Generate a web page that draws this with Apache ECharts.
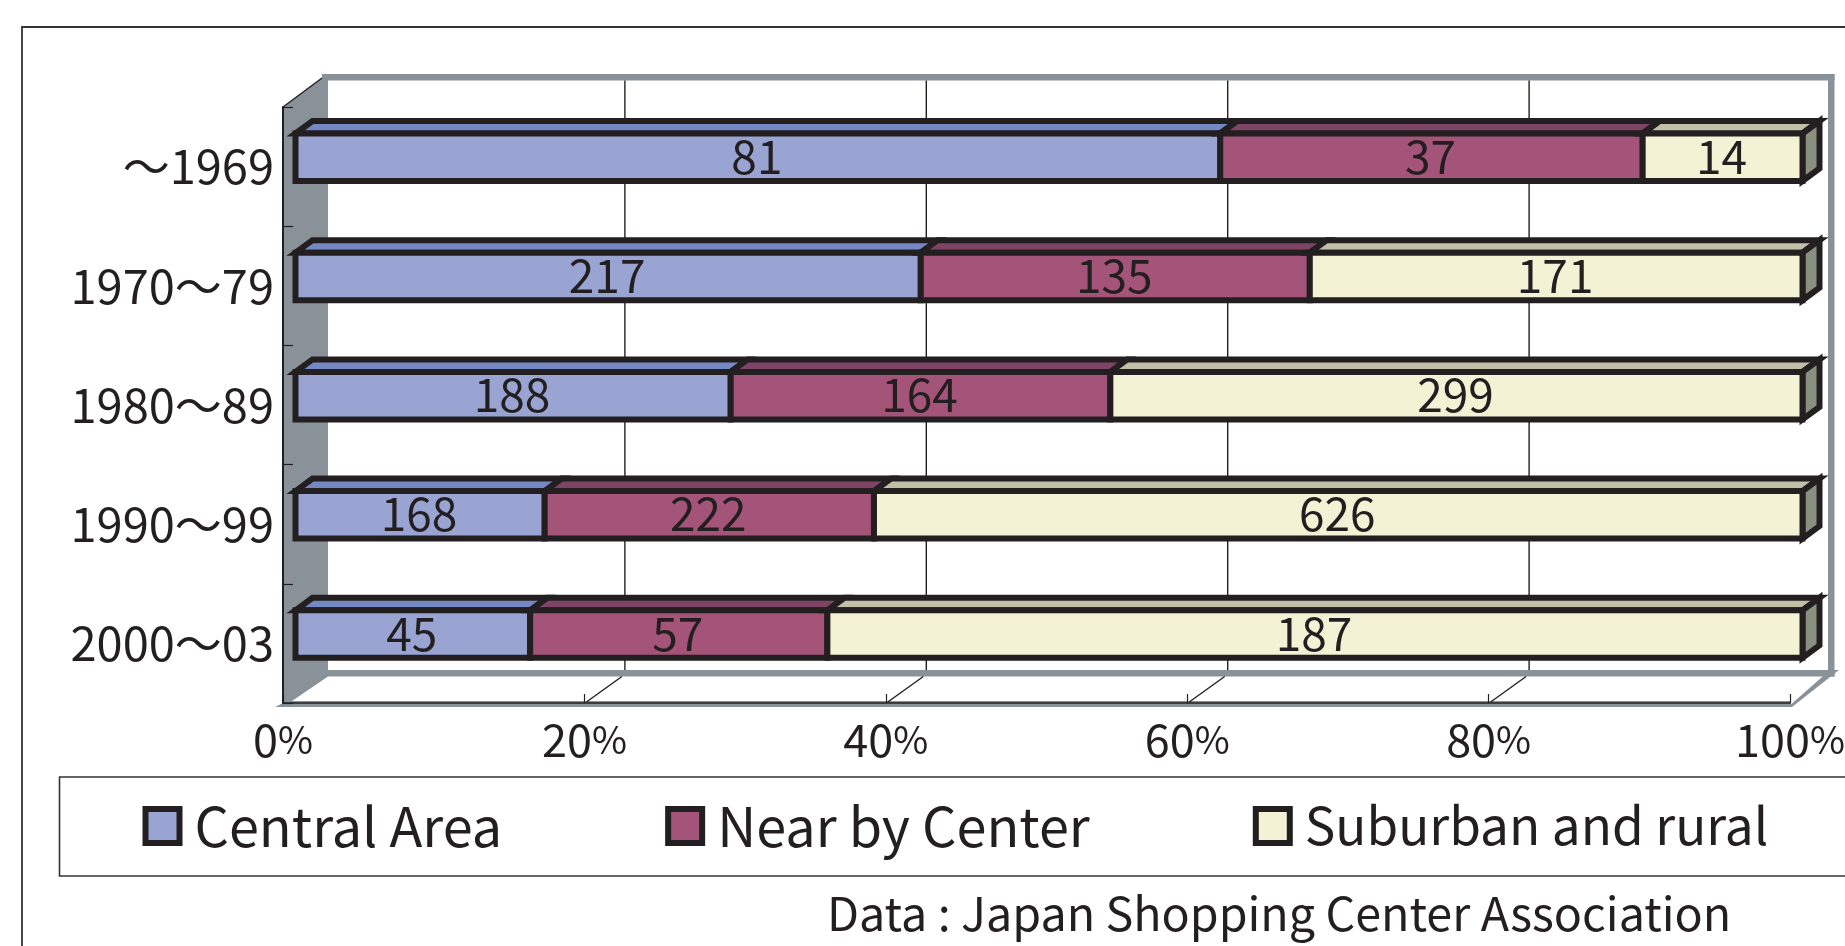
<!DOCTYPE html>
<html>
<head>
<meta charset="utf-8">
<title>Shopping centers by location and opening period</title>
<style>
  html, body { margin: 0; padding: 0; background: #fff; }
  #chart { width: 1845px; height: 946px; }
</style>
<script src="https://cdn.jsdelivr.net/npm/echarts@6/dist/echarts.min.js"></script>
</head>
<body>
<div id="chart"></div>
<script>
// Opening periods, top to bottom
const periods = ['～1969', '1970～79', '1980～89', '1990～99', '2000～03'];
// Number of centers opened per location
const centralArea = [81, 217, 188, 168, 45];
const nearCenter = [37, 135, 164, 222, 57];
const suburbanRural = [14, 171, 299, 626, 187];
const seriesNames = ['Central Area', 'Near by Center', 'Suburban and rural'];
const percentTicks = [0, 20, 40, 60, 80, 100];
const sourceNote = 'Data : Japan Shopping Center Association';

const INK = '#231f20';
const WALL = '#8a9299';
const FONT = '"Noto Sans CJK JP", "Noto Sans", sans-serif';
const faces = [
  { front: '#99a4d2', top: '#7488c4', side: '#7488c4', legendFont: 54 },
  { front: '#a35478', top: '#7d4466', side: '#7d4466', legendFont: 54 },
  { front: '#f3f2d4', top: '#c0bfa8', side: '#8a9080', legendFont: 51.3 }
];

// Box depth projection, shared by the bars and the chart walls
const BAR_HEIGHT = 47.5, BAR_DX = 12.5, BAR_DY = -9.35;
const BOX_DX = 17, BOX_DY = 12.5, STROKE = 6;
const BACK_DX = 40.5, BACK_DY = 27;

const counts = [centralArea, nearCenter, suburbanRural];
const totals = periods.map((_, i) => counts.reduce((s, c) => s + c[i], 0));

// Each row: [period index, start %, end %, count]
function stackRows(seriesIndex) {
  return periods.map((_, i) => {
    let before = 0;
    for (let k = 0; k < seriesIndex; k++) before += counts[k][i];
    const v = counts[seriesIndex][i];
    return [i, before / totals[i] * 100, (before + v) / totals[i] * 100, v];
  });
}

function renderBox(seriesIndex) {
  const face = faces[seriesIndex];
  const isLast = seriesIndex === counts.length - 1;
  return function (params, api) {
    const cat = api.value(0);
    const a = api.coord([api.value(1), cat]);
    const b = api.coord([api.value(2), cat]);
    const x0 = a[0] + BAR_DX, x1 = b[0] + BAR_DX;
    const yt = a[1] + BAR_DY - BAR_HEIGHT / 2;
    const yb = yt + BAR_HEIGHT;
    const line = { stroke: INK, lineWidth: STROKE, lineJoin: 'miter', miterLimit: 10 };
    const children = [{
      type: 'polygon',
      shape: { points: [[x0, yt], [x0 + BOX_DX, yt - BOX_DY], [x1 + BOX_DX, yt - BOX_DY], [x1, yt]] },
      style: Object.assign({ fill: face.top }, line)
    }];
    if (isLast) {
      children.push({
        type: 'polygon',
        shape: { points: [[x1, yt], [x1 + BOX_DX, yt - BOX_DY], [x1 + BOX_DX, yb - BOX_DY], [x1, yb]] },
        style: Object.assign({ fill: face.side }, line)
      });
    }
    children.push({
      type: 'rect',
      shape: { x: x0, y: yt, width: x1 - x0, height: BAR_HEIGHT },
      style: Object.assign({ fill: face.front }, line)
    });
    children.push({
      type: 'text',
      style: {
        x: (x0 + x1) / 2 - 1, y: (yt + yb) / 2 - 1,
        text: String(api.value(3)),
        fill: INK, font: '46px ' + FONT, align: 'center', verticalAlign: 'middle'
      }
    });
    return { type: 'group', children };
  };
}

// Gray walls, floor and the gridlines on the back plane
function renderWalls(params, api) {
  const g = params.coordSys;
  const left = g.x, right = g.x + g.width, top = g.y, bottom = g.y + g.height;
  const bw = 6.5;
  const backTop = top - BACK_DY - 6, backBottom = bottom - 33;
  const thin = { stroke: INK, lineWidth: 1.4 };
  const children = [
    { type: 'polygon', shape: { points: [
      [left, top], [left + 39, backTop + 4], [left + 39, backTop], [left + 45, backTop],
      [left + 45, backBottom + bw], [left + 9, bottom - 2], [right + 1, bottom - 2],
      [right + 1, bottom + 4], [left - 8, bottom + 4], [left, bottom]
    ] }, style: { fill: WALL } },
    { type: 'rect', shape: { x: left + 39, y: backTop, width: g.width + 5.5, height: bw }, style: { fill: WALL } },
    { type: 'rect', shape: { x: right + 38, y: backTop, width: bw, height: backBottom + bw - backTop }, style: { fill: WALL } },
    { type: 'rect', shape: { x: left + 45, y: backBottom, width: g.width - 0.5, height: bw }, style: { fill: WALL } },
    { type: 'polygon', shape: { points: [
      [right - 2, bottom + 4], [right + 40, backBottom], [right + 49, backBottom],
      [right + 2, bottom + 4]
    ] }, style: { fill: WALL } },
    { type: 'line', shape: { x1: left, y1: top, x2: left + 39, y2: backTop + 4 }, style: thin }
  ];
  percentTicks.slice(1, -1).forEach(t => {
    const x = api.coord([t, 0])[0];
    children.push({ type: 'line', shape: { x1: x + BACK_DX, y1: backTop + bw, x2: x + BACK_DX, y2: backBottom }, style: thin });
    children.push({ type: 'line', shape: { x1: x + 2, y1: bottom - 1, x2: x + BACK_DX - 3, y2: backBottom + bw }, style: thin });
  });
  return { type: 'group', children };
}

const chart = echarts.init(document.getElementById('chart'), null, { renderer: 'canvas' });

chart.setOption({
  animation: false,
  backgroundColor: '#ffffff',
  textStyle: { fontFamily: FONT, color: INK },
  title: {
    text: sourceNote, left: 827, top: 884,
    textStyle: { fontFamily: FONT, fontSize: 46.6, fontWeight: 'normal', color: INK, lineHeight: 58 },
    padding: 0
  },
  grid: { left: 283, top: 107, right: 55, bottom: 243, containLabel: false, outerBoundsMode: 'none' },
  xAxis: {
    type: 'value', min: 0, max: 100, interval: 20, z: 1.5,
    axisLine: { show: true, lineStyle: { color: INK, width: 1.6 } },
    axisTick: { show: true, inside: true, length: 9, lineStyle: { color: INK, width: 1.2 } },
    splitLine: { show: false },
    axisLabel: {
      margin: 14, color: INK, showMinLabel: true, showMaxLabel: true, hideOverlap: false,
      formatter: v => '{n|' + v + '}{p|%}',
      rich: {
        n: { fontFamily: FONT, fontSize: 45, color: INK },
        p: { fontFamily: '"Liberation Sans Narrow", ' + FONT, fontSize: 38, color: INK }
      }
    }
  },
  yAxis: {
    type: 'category', inverse: true, data: periods, z: 1.5,
    axisLine: { show: true, lineStyle: { color: INK, width: 2 } },
    axisTick: { show: true, inside: true, length: 10, lineStyle: { color: INK, width: 1.2 } },
    axisLabel: { margin: 9, fontSize: 47, color: INK, fontFamily: FONT }
  },
  legend: {
    left: 59.5, top: 777, width: 1785,
    padding: [22, 79, 23, 83],
    orient: 'horizontal',
    itemWidth: 34, itemHeight: 34, itemGap: 163,
    backgroundColor: '#ffffff',
    borderColor: '#333333', borderWidth: 1.6, borderRadius: 0,
    selectedMode: false,
    textStyle: { fontFamily: FONT, fontSize: 54, color: INK, lineHeight: 40, padding: [0, 0, 0, 10] },
    data: seriesNames.map((name, i) => ({
      name, icon: 'rect',
      itemStyle: { color: faces[i].front, borderColor: INK, borderWidth: 6 },
      textStyle: { fontSize: faces[i].legendFont }
    }))
  },
  graphic: [{
    type: 'polyline', z: -1, silent: true,
    shape: { points: [[22, 946], [22, 27], [1845, 27]] },
    style: { fill: 'none', stroke: '#333333', lineWidth: 1.8 }
  }],
  series: [
    { type: 'custom', z: 1, silent: true, clip: false, renderItem: renderWalls, data: [[0]], encode: { x: 0 }, tooltip: { show: false } }
  ].concat(seriesNames.map((name, i) => ({
    type: 'custom', name, z: 2 + i * 0.01, silent: true, clip: false,
    renderItem: renderBox(i),
    itemStyle: { color: faces[i].front },
    encode: { x: [1, 2], y: 0 },
    data: stackRows(i)
  })))
});
</script>
</body>
</html>
